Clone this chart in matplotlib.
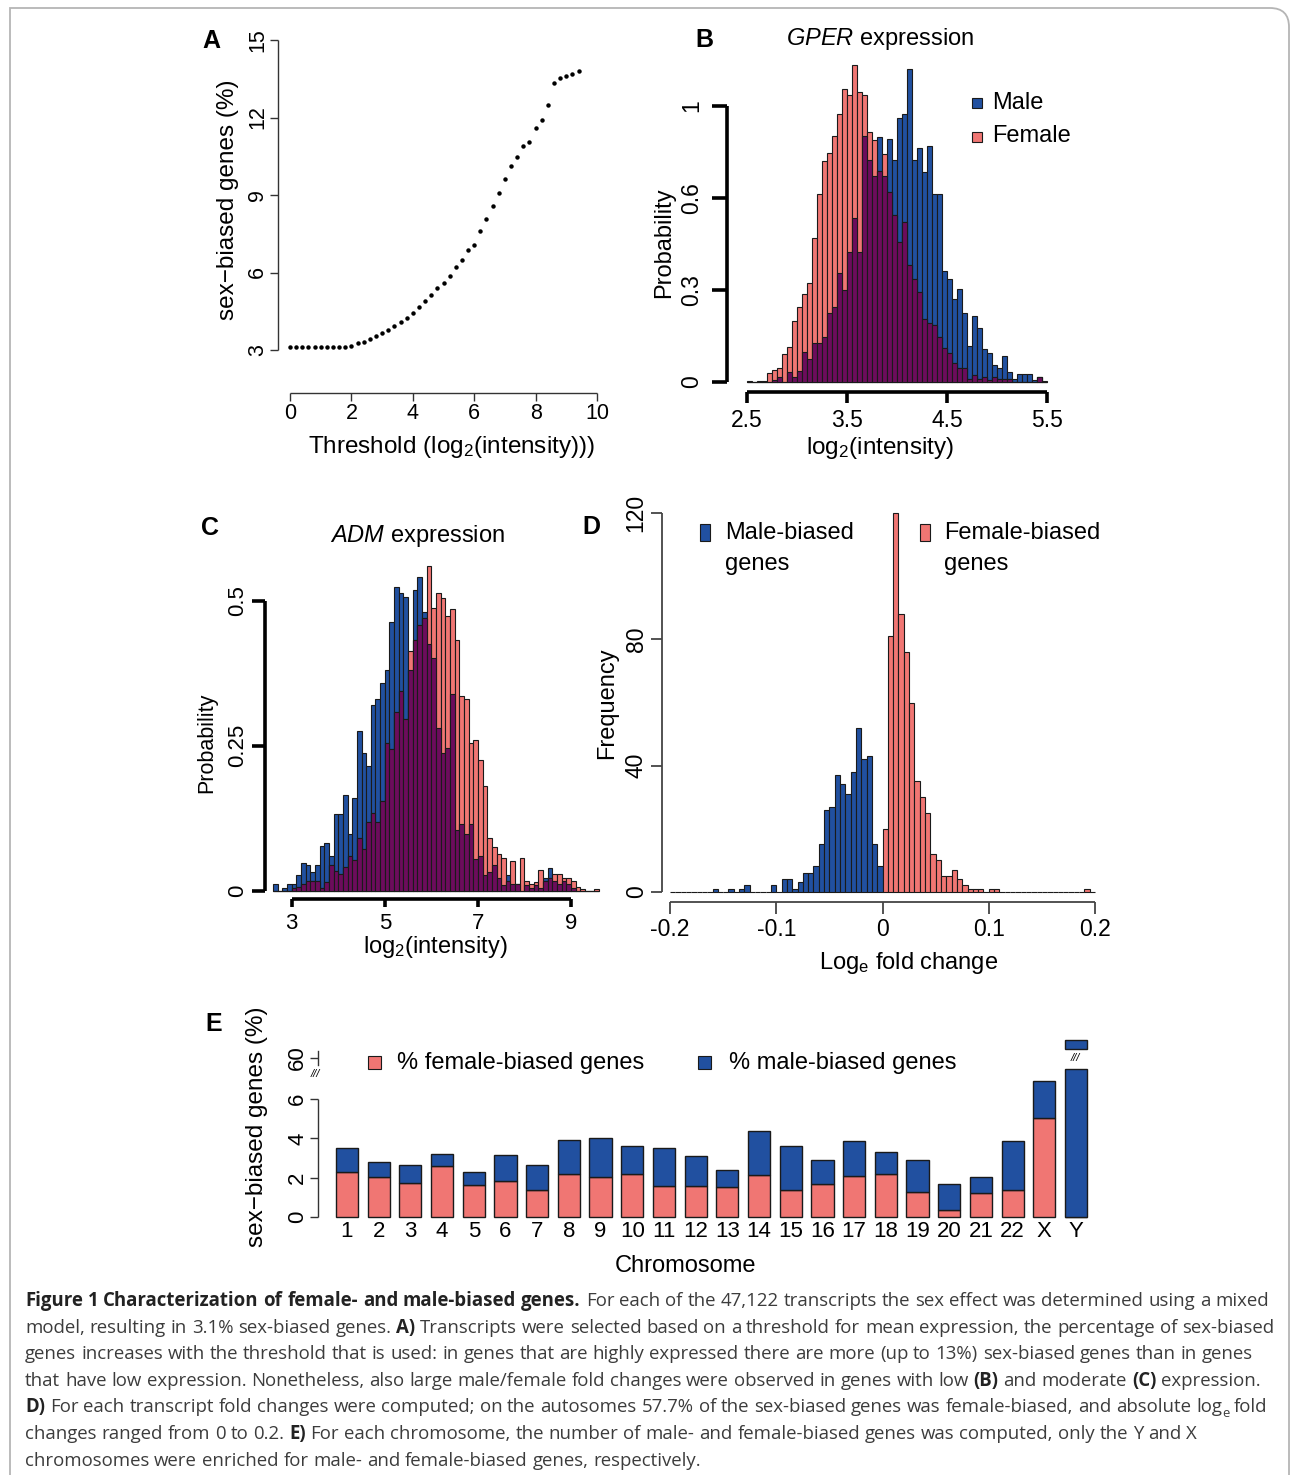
import numpy as np
import matplotlib
matplotlib.use("Agg")
import matplotlib.pyplot as plt
from matplotlib.patches import Rectangle, PathPatch
from matplotlib.path import Path
import matplotlib.transforms as mtrans

W, H = 1290, 1475

plt.rcParams['font.family'] = ['Liberation Sans', 'DejaVu Sans']
plt.rcParams['mathtext.fontset'] = 'custom'
plt.rcParams['mathtext.rm'] = 'Liberation Sans'
plt.rcParams['mathtext.it'] = 'Liberation Sans:italic'
plt.rcParams['mathtext.bf'] = 'Liberation Sans:bold'

SALMON = '#f07673'
BLUE = '#2150a0'
PURPLE = '#6c0c5c'
EDGE = '#1a1a1a'

# ---- A: threshold vs % sex-biased genes
a_thr = [0.0, 0.2, 0.4, 0.6, 0.8, 1.0, 1.2, 1.4, 1.6, 1.8, 2.0, 2.2, 2.4, 2.6, 2.8, 3.0,
         3.2, 3.4, 3.6, 3.8, 4.0, 4.2, 4.4, 4.6, 4.8, 5.0, 5.2, 5.4, 5.6, 5.8, 6.0, 6.2,
         6.4, 6.6, 6.8, 7.0, 7.2, 7.4, 7.6, 7.8, 8.0, 8.2, 8.4, 8.6, 8.8, 9.0, 9.2, 9.4]
a_pct = [3.13, 3.13, 3.13, 3.13, 3.13, 3.13, 3.13, 3.13, 3.13, 3.13, 3.17, 3.26, 3.32, 3.42,
         3.54, 3.65, 3.78, 3.93, 4.09, 4.24, 4.42, 4.68, 4.88, 5.14, 5.39, 5.60, 5.88, 6.21,
         6.49, 6.87, 7.05, 7.59, 8.06, 8.56, 9.07, 9.62, 10.11, 10.46, 10.88, 11.04, 11.58,
         11.91, 12.48, 13.32, 13.53, 13.59, 13.68, 13.81]

# ---- B: GPER expression, bins of 0.05 from 2.5
b_start, b_width = 2.5, 0.05
b_female = [0.004, 0, 0.004, 0.004, 0.034, 0.042, 0.05, 0.10, 0.126, 0.22,
            0.27, 0.32, 0.36, 0.52, 0.68, 0.80, 0.83, 0.89, 0.97, 1.06,
            1.04, 1.15, 1.05, 1.04, 0.907, 0.877, 0.764, 0.825, 0.69, 0.605,
            0.508, 0.58, 0.424, 0.372, 0.327, 0.23, 0.213, 0.207, 0.162, 0.122,
            0.106, 0.07, 0.05, 0.05, 0.01, 0.025, 0.01, 0.017, 0.007, 0.017,
            0.01, 0.01, 0.01, 0, 0, 0, 0, 0, 0.019, 0.004]
b_male = [0, 0, 0, 0, 0, 0.007, 0.018, 0, 0.035, 0.019,
          0.04, 0.108, 0.085, 0.14, 0.14, 0.162, 0.249, 0.273, 0.394, 0.333,
          0.472, 0.593, 0.472, 0.89, 0.804, 0.748, 0.889, 0.748, 0.88, 0.804,
          0.958, 0.97, 1.134, 0.804, 0.847, 0.76, 0.856, 0.681, 0.681, 0.403,
          0.372, 0.30, 0.338, 0.249, 0.13, 0.239, 0.194, 0.118, 0.104, 0.062,
          0.05, 0.095, 0.037, 0.01, 0.029, 0.029, 0.029, 0.007, 0.019, 0]
b_yticks = [0, 1 / 3, 2 / 3, 1]
b_ylabels = ['0', '0.3', '0.6', '1']

# ---- C: ADM expression, bins of 0.1 from 2.6
c_start, c_width = 2.6, 0.1
c_male = [0.0115, 0, 0.0046, 0.0115, 0.0115, 0.0276, 0.049, 0.045, 0.032, 0.045,
          0.0775, 0.082, 0.061, 0.133, 0.133, 0.165, 0.099, 0.16, 0.276, 0.237,
          0.215, 0.32, 0.331, 0.359, 0.381, 0.464, 0.524, 0.513, 0.507, 0.381,
          0.518, 0.54, 0.48, 0.425, 0.402, 0.281, 0.237, 0.247, 0.34, 0.105,
          0.115, 0.099, 0.115, 0.055, 0.061, 0.028, 0.033, 0.045, 0.022, 0.010,
          0.028, 0.0115, 0.0115, 0, 0.010, 0.0046, 0.010, 0.0046, 0.022, 0.039,
          0.018, 0.012, 0.018, 0.012, 0.0046, 0, 0, 0, 0, 0]
c_female = [0, 0, 0, 0, 0.0046, 0.0075, 0.0115, 0.018, 0.018, 0.018,
            0.0046, 0.015, 0.045, 0.034, 0.030, 0.042, 0.060, 0.053, 0.091, 0.072,
            0.119, 0.135, 0.119, 0.155, 0.255, 0.244, 0.308, 0.345, 0.297, 0.414,
            0.432, 0.459, 0.47, 0.56, 0.488, 0.514, 0.504, 0.474, 0.485, 0.432,
            0.335, 0.331, 0.255, 0.26, 0.226, 0.18, 0.091, 0.075, 0.064, 0.056,
            0.018, 0.052, 0.0115, 0.056, 0.018, 0.0115, 0.015, 0.037, 0.018, 0.022,
            0.030, 0.030, 0.022, 0.022, 0.018, 0.0075, 0.0034, 0, 0, 0.0034]

# ---- D: log fold change histograms, bins of 0.005
d_width = 0.005
d_male_start = -0.2
d_male = [0, 0, 0, 0, 0, 0, 0, 0, 1, 0, 0, 1, 0, 1, 2, 0, 0, 0, 0, 2,
          0, 4, 4, 1, 3, 6, 6, 8, 15, 26, 27, 37, 34, 31, 38, 52, 42, 43, 15, 8]
d_female_start = 0.0
d_female = [20, 81, 120, 88, 76, 60, 35, 30, 25, 12, 10, 5, 5, 7, 4, 2, 1, 1, 1, 0,
            1, 1, 0, 0, 0, 0, 0, 0, 0, 0, 0, 0, 0, 0, 0, 0, 0, 0, 1, 0]

# ---- E: per chromosome
e_chrom = [str(i) for i in range(1, 23)] + ['X', 'Y']
e_female = [2.29, 2.03, 1.73, 2.58, 1.63, 1.81, 1.39, 2.20, 2.02, 2.17, 1.56, 1.56,
            1.54, 2.12, 1.37, 1.68, 2.08, 2.20, 1.27, 0.36, 1.24, 1.37, 5.03, 0.0]
e_male = [1.22, 0.75, 0.93, 0.64, 0.66, 1.36, 1.24, 1.73, 2.01, 1.46, 1.97, 1.52,
          0.87, 2.27, 2.22, 1.20, 1.77, 1.11, 1.61, 1.32, 0.79, 2.49, 1.90, 60.9]
E_CUT = 7.55        # lower segment of a broken bar stops here
E_UP_FROM = 60.45   # upper segment of a broken bar starts here (data units)
E_UP_POS = 8.08     # where 60 sits on the drawn axis


def e_pos(v):
    return v if v < 20 else E_UP_POS + (v - 60)


fig = plt.figure(figsize=(W / 100, H / 100), dpi=100)


def T(x, y, s, **kw):
    kw.setdefault('ha', 'center')
    kw.setdefault('va', 'center')
    return fig.text(x / W, 1 - y / H, s, **kw)


def axes_at(left, right, top, bottom, xcal, ycal):
    xv0, xp0, xv1, xp1 = xcal
    yv0, yp0, yv1, yp1 = ycal
    fx = lambda p: xv0 + (p - xp0) * (xv1 - xv0) / (xp1 - xp0)
    fy = lambda p: yv0 + (p - yp0) * (yv1 - yv0) / (yp1 - yp0)
    ax = fig.add_axes([left / W, 1 - bottom / H, (right - left) / W, (bottom - top) / H])
    ax.set_xlim(fx(left), fx(right))
    ax.set_ylim(fy(bottom), fy(top))
    ax.patch.set_visible(False)
    ax.spines['top'].set_visible(False)
    ax.spines['right'].set_visible(False)
    return ax


def style(ax, xb, yb, lw, color, tlx, tly, padx, pady, size):
    ax.spines['left'].set_bounds(*yb)
    ax.spines['bottom'].set_bounds(*xb)
    for s in ('left', 'bottom'):
        ax.spines[s].set_linewidth(lw)
        ax.spines[s].set_color(color)
        ax.spines[s].set_capstyle('butt')
    ax.tick_params(axis='x', length=tlx * 0.72, width=lw, color=color, pad=padx * 0.72,
                   labelsize=size)
    ax.tick_params(axis='y', length=tly * 0.72, width=lw, color=color, pad=pady * 0.72,
                   labelsize=size)
    for lab in ax.get_yticklabels():
        lab.set_rotation(90)
        lab.set_va('center')
        lab.set_ha('right')


def overlap_hist(ax, start, width, male, female):
    m = np.array(male, float)
    f = np.array(female, float)
    left = start + width * np.arange(len(m))
    kw = dict(width=width, align='edge', edgecolor=EDGE, linewidth=0.8, clip_on=False)
    ax.bar(left, m, color=BLUE, **kw)
    ax.bar(left, f, color=SALMON, **kw)
    ax.bar(left, np.minimum(m, f), color=PURPLE, **kw)


def key(x, y, w, h, color):
    fig.add_artist(Rectangle((x / W, 1 - (y + h) / H), w / W, h / H, transform=fig.transFigure,
                             facecolor=color, edgecolor=EDGE, linewidth=0.8))


# ---------------- Panel A
axA = axes_at(278, 610, 30, 393, (0, 290, 10, 597), (3, 350, 15, 40))
axA.plot(a_thr, a_pct, 'o', ms=2.2, color='black', clip_on=False)
axA.set_xticks([0, 2, 4, 6, 8, 10])
axA.set_yticks([3, 6, 9, 12, 15])
style(axA, (0, 10), (3, 15), 1.0, '#333333', 8, 8, 2, 2, 15.5)
T(211, 41, 'A', fontsize=18, weight='bold')
T(228, 200, 'sex\u2212biased genes (%)', rotation=90, fontsize=17.5)
T(452, 447, r'Threshold (log$_\mathregular{2}$(intensity)))', fontsize=17.5)

# ---------------- Panel B
axB = axes_at(727, 1060, 60, 392, (2.5, 747, 5.5, 1047), (0, 382, 1, 106))
overlap_hist(axB, b_start, b_width, b_male, b_female)
axB.set_xticks([2.5, 3.5, 4.5, 5.5])
axB.set_xticklabels(['2.5', '3.5', '4.5', '5.5'])
axB.set_yticks(b_yticks)
axB.set_yticklabels(b_ylabels)
style(axB, (2.5, 5.5), (0, 1), 2.6, 'black', 11, 15, 6, 9, 16.5)
T(704, 40, 'B', fontsize=18, weight='bold')
T(880, 39, r'$\mathit{GPER}$ expression', fontsize=17)
T(664, 243, 'Probability', rotation=90, fontsize=17)
T(880, 448, r'log$_\mathregular{2}$(intensity)', fontsize=17.5)
key(971.5, 98, 10, 10, BLUE)
key(971.5, 131.5, 10, 10, SALMON)
T(992, 103, 'Male', fontsize=17, ha='left')
T(992, 136, 'Female', fontsize=17, ha='left')

# ---------------- Panel C
axC = axes_at(265, 610, 560, 899, (3, 291.7, 9, 571), (0, 891, 0.5, 600.7))
overlap_hist(axC, c_start, c_width, c_male, c_female)
axC.set_xticks([3, 5, 7, 9])
axC.set_yticks([0, 0.25, 0.5])
axC.set_yticklabels(['0', '0.25', '0.5'])
style(axC, (3, 9), (0, 0.5), 2.6, 'black', 8, 13, 6, 4, 16)
T(210, 528, 'C', fontsize=18, weight='bold')
T(417, 536, r'$\mathit{ADM}$ expression', fontsize=17)
T(207, 743, 'Probability', rotation=90, fontsize=15.5)
T(435, 947, r'log$_\mathregular{2}$(intensity)', fontsize=17)

# ---------------- Panel D
axD = axes_at(661.7, 1105, 505, 901.7, (-0.2, 670, 0.2, 1095), (0, 891.7, 120, 513.3))
kwd = dict(width=d_width, align='edge', edgecolor=EDGE, linewidth=0.8, clip_on=False)
axD.bar(d_male_start + d_width * np.arange(len(d_male)), d_male, color=BLUE, **kwd)
axD.bar(d_female_start + d_width * np.arange(len(d_female)), d_female, color=SALMON, **kwd)
axD.set_xticks([-0.2, -0.1, 0, 0.1, 0.2])
axD.set_xticklabels(['-0.2', '-0.1', '0', '0.1', '0.2'])
axD.set_yticks([0, 40, 80, 120])
style(axD, (-0.2, 0.2), (0, 120), 1.3, '#444444', 12, 11, 4, 3, 16.5)
T(591, 527, 'D', fontsize=18, weight='bold')
T(607, 703, 'Frequency', rotation=90, fontsize=17)
T(909, 963, r'Log$_\mathregular{e}$ fold change', fontsize=17)
key(700, 524, 9.5, 17, BLUE)
key(920, 524, 9.5, 17, SALMON)
T(725, 533, 'Male-biased', fontsize=17, ha='left')
T(725, 564, 'genes', fontsize=17, ha='left')
T(944, 533, 'Female-biased', fontsize=17, ha='left')
T(944, 564, 'genes', fontsize=17, ha='left')

# ---------------- Panel E
axE = axes_at(318, 1100, 1030, 1217, (1, 347, 24, 1076), (0, 1217, 6, 1099))
xpos = np.arange(1, len(e_chrom) + 1)
ef = np.array(e_female)
em = np.array(e_male)
lower_m = np.minimum(ef + em, E_CUT) - ef
kwe = dict(width=0.7, edgecolor=EDGE, linewidth=1.0, clip_on=False)
axE.bar(xpos, ef, color=SALMON, **kwe)
axE.bar(xpos, lower_m, bottom=ef, color=BLUE, **kwe)
broken = (ef + em) > E_CUT
axE.bar(xpos[broken], e_pos(ef[broken] + em[broken]) - e_pos(E_UP_FROM), bottom=e_pos(E_UP_FROM),
        color=BLUE, **kwe)
axE.set_xticks(xpos)
axE.set_xticklabels(e_chrom)
axE.set_yticks([0, 2, 4, 6, E_UP_POS])
axE.set_yticklabels(['0', '2', '4', '6', '60'])
style(axE, (1, 24), (0, 6), 1.0, '#333333', 0, 8, 3, 2, 16)
axE.spines['bottom'].set_visible(False)
axE.tick_params(axis='x', length=0, pad=3)
blend = mtrans.blended_transform_factory(axE.transAxes, axE.transData)
axE.plot([0, 0], [E_UP_POS - 0.35, E_UP_POS + 0.35], color='#333333', lw=1.0,
         transform=blend, clip_on=False)
T(315, 1074, '///', fontsize=8, style='italic')
T(1075, 1058, '///', fontsize=8, style='italic')
T(214, 1024, 'E', fontsize=18, weight='bold')
T(257, 1127, 'sex\u2212biased genes (%)', rotation=90, fontsize=17.5)
T(686, 1266, 'Chromosome', fontsize=17)
key(368, 1056, 13, 13, SALMON)
key(698, 1056, 13, 13, BLUE)
T(397, 1063, '% female-biased genes', fontsize=17, ha='left')
T(729, 1063, '% male-biased genes', fontsize=17, ha='left')

# ---------------- frame
verts = [(10, H), (10, 8), (1270, 8), (1289, 8), (1289, 27), (1289, H)]
codes = [Path.MOVETO, Path.LINETO, Path.LINETO, Path.CURVE3, Path.CURVE3, Path.LINETO]
verts = [(x / W, 1 - y / H) for x, y in verts]
fig.add_artist(PathPatch(Path(verts, codes), transform=fig.transFigure, facecolor='none',
                         edgecolor='#b5b5b5', linewidth=1.3))

# ---------------- caption, word by word, ragged right
CAP_FONT = ['Open Sans', 'DejaVu Sans']
CAP_COLOR = '#3c3c3c'
CAP_X0 = 25
cap_line_ends = [1272, 1262, 1252, 1257, 1268, 1203, 714]
caption = [
    [("Figure 1 Characterization of female- and male-biased genes.", 'b'),
     (" For each of the 47,122 transcripts the sex effect was determined using a mixed", 'r')],
    [("model, resulting in 3.1% sex-biased genes. ", 'r'), ("A)", 'b'),
     (" Transcripts were selected based on a threshold for mean expression, the percentage of sex-biased", 'r')],
    [("genes increases with the threshold that is used: in genes that are highly expressed there are more (up to 13%) sex-biased genes than in genes", 'r')],
    [("that have low expression. Nonetheless, also large male/female fold changes were observed in genes with low ", 'r'),
     ("(B)", 'b'), (" and moderate ", 'r'), ("(C)", 'b'), (" expression.", 'r')],
    [("D)", 'b'), (" For each transcript fold changes were computed; on the autosomes 57.7% of the sex-biased genes was female-biased, and absolute log", 'r'),
     ("e", 's'), (" fold", 'r')],
    [("changes ranged from 0 to 0.2. ", 'r'), ("E)", 'b'),
     (" For each chromosome, the number of male- and female-biased genes was computed, only the Y and X", 'r')],
    [("chromosomes were enriched for male- and female-biased genes, respectively.", 'r')],
]

renderer = fig.canvas.get_renderer()


def seg_width(s, kind, size):
    weight = 'bold' if kind == 'b' else 'normal'
    sz = size * 0.7 if kind == 's' else size
    t1 = fig.text(0, 0, '|' + s + '|', fontsize=sz, weight=weight, family=CAP_FONT)
    t2 = fig.text(0, 0, '||', fontsize=sz, weight=weight, family=CAP_FONT)
    w = t1.get_window_extent(renderer).width - t2.get_window_extent(renderer).width
    t1.remove()
    t2.remove()
    return w


def line_tokens(line):
    # (word, kind, space_before)
    out = []
    gap_next = False
    for s, k in line:
        parts = s.split(' ')
        for i, p in enumerate(parts):
            if i > 0:
                gap_next = True
            if p:
                out.append((p, k, gap_next and bool(out)))
                gap_next = False
    return out


factors = []
for line, end in zip(caption, cap_line_ends):
    wsum = sum(seg_width(s, k, 10) for s, k in line)
    factors.append((end - CAP_X0) / wsum)
cap_size = 10 * float(np.median(factors))
space_w = seg_width(' ', 'r', cap_size)

for li, line in enumerate(caption):
    x = CAP_X0
    y = 1306 + 26.6 * li
    for p, k, g in line_tokens(line):
        if g:
            x += space_w
        weight = 'bold' if k == 'b' else 'normal'
        sz = cap_size * 0.7 if k == 's' else cap_size
        yy = y + 5 if k == 's' else y
        T(x, yy, p, fontsize=sz, weight=weight, family=CAP_FONT, ha='left', va='baseline',
          color='#222222' if k == 'b' else CAP_COLOR)
        x += seg_width(p, k, cap_size)

fig.savefig('out.png', dpi=100)
